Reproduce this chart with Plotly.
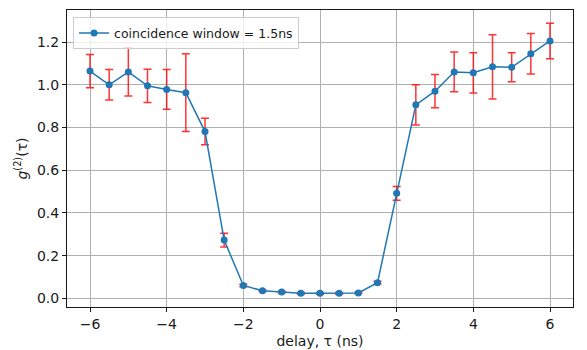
import plotly.graph_objects as go

delay = [-6, -5.5, -5, -4.5, -4, -3.5, -3, -2.5, -2, -1.5, -1, -0.5, 0, 0.5, 1, 1.5, 2,
         2.5, 3, 3.5, 4, 4.5, 5, 5.5, 6]
g2 = [1.064, 1.000, 1.060, 0.995, 0.978, 0.963, 0.781, 0.273, 0.061, 0.036, 0.030, 0.024,
      0.024, 0.024, 0.026, 0.074, 0.492, 0.906, 0.970, 1.060, 1.056, 1.084, 1.082, 1.145, 1.205]
g2_err = [0.078, 0.071, 0.113, 0.078, 0.093, 0.182, 0.062, 0.032, 0.006, 0.004, 0.004, 0.004,
          0.004, 0.004, 0.004, 0.006, 0.032, 0.094, 0.078, 0.093, 0.094, 0.150, 0.068, 0.095, 0.083]
x_ticks = [-6, -4, -2, 0, 2, 4, 6]
y_ticks = [0.0, 0.2, 0.4, 0.6, 0.8, 1.0, 1.2]

fig = go.Figure()
fig.add_trace(go.Scatter(
    x=delay, y=g2, mode="lines+markers",
    name="coincidence window = 1.5ns",
    line=dict(color="#1f77b4", width=1.5),
    marker=dict(color="#1f77b4", size=7),
    error_y=dict(type="data", array=g2_err, visible=True,
                 color="rgba(255,0,0,0.8)", thickness=1.5, width=4),
))

font_family = "DejaVu Sans"
fig.update_layout(
    width=587, height=350,
    margin=dict(l=67, r=14, t=10, b=43, autoexpand=False),
    paper_bgcolor="white", plot_bgcolor="white",
    font=dict(family=font_family, size=14, color="#1a1a1a"),
    showlegend=True,
    legend=dict(x=0.012, y=0.975, xanchor="left", yanchor="top",
                bgcolor="rgba(255,255,255,0.8)", bordercolor="#cccccc", borderwidth=1,
                font=dict(size=12.5, family=font_family), itemwidth=30),
)
fig.update_xaxes(
    range=[-6.6, 6.6], tickvals=x_ticks, ticks="outside", ticklen=4, tickcolor="#1a1a1a",
    showgrid=True, gridcolor="#b0b0b0", gridwidth=0.8, zeroline=False, automargin=False,
    showline=True, linecolor="#1a1a1a", linewidth=1, mirror=True,
    title=dict(text="delay, τ (ns)", standoff=5, font=dict(size=14)),
)
fig.update_yaxes(
    range=[-0.04, 1.35], tickvals=y_ticks, tickformat=".1f", ticks="outside", ticklen=4,
    tickcolor="#1a1a1a", automargin=False,
    showgrid=True, gridcolor="#b0b0b0", gridwidth=0.8, zeroline=False,
    showline=True, linecolor="#1a1a1a", linewidth=1, mirror=True,
    title=dict(text="<i>g</i><sup>(2)</sup>(τ)", standoff=6, font=dict(size=14)),
)

fig.write_html("out.html", config={"displayModeBar": False},
               post_script="document.body.style.margin='0';")
